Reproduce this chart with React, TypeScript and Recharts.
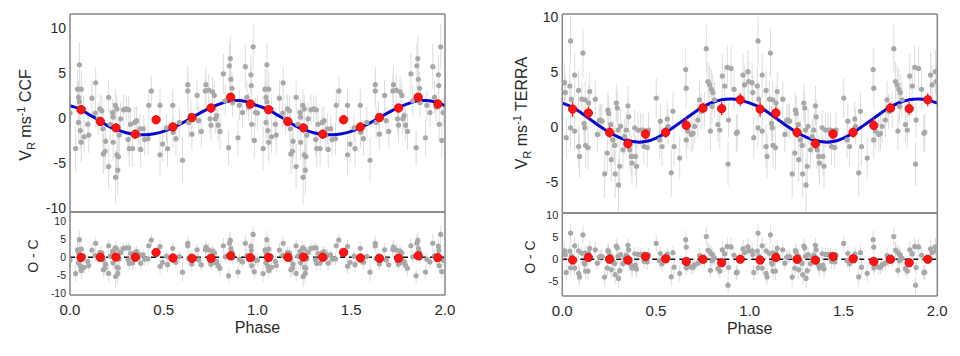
import {
  ComposedChart,
  Scatter,
  Line,
  XAxis,
  YAxis,
  ErrorBar,
  ReferenceLine,
} from "recharts";

const FONT = '"Liberation Sans", Arial, Helvetica, sans-serif';
const INK = "#2a2a2a";
const FRAME = "#858585";
const GREY_PT = "#a8a8a8";
const GREY_ERR = "#dcdcdc";
const RED = "#ff1414";
const BLUE = "#0808d4";

// phase-folded data is shown twice: 0-1 and again 1-2
const CYCLES = [0, 1];

const PHASE_LABELS = [0, 0.5, 1, 1.5, 2];
const PHASE_MINOR = [
  0, 0.1, 0.2, 0.3, 0.4, 0.5, 0.6, 0.7, 0.8, 0.9, 1, 1.1, 1.2, 1.3, 1.4, 1.5,
  1.6, 1.7, 1.8, 1.9, 2,
];

// fitted orbit, every 0.05 in phase
const MODEL_PHASE = [
  0, 0.05, 0.1, 0.15, 0.2, 0.25, 0.3, 0.35, 0.4, 0.45, 0.5, 0.55, 0.6, 0.65,
  0.7, 0.75, 0.8, 0.85, 0.9, 0.95, 1,
];
const CCF_MODEL = [
  1.36, 1.0, 0.4, -0.2, -0.85, -1.3, -1.65, -1.83, -1.87, -1.75, -1.5, -1.06,
  -0.55, 0.04, 0.62, 1.14, 1.57, 1.87, 1.94, 1.76, 1.36,
];
const TERRA_MODEL = [
  2.15, 1.8, 1.27, 0.66, 0.04, -0.5, -0.95, -1.26, -1.4, -1.33, -1.03, -0.57,
  0.03, 0.64, 1.24, 1.8, 2.2, 2.45, 2.52, 2.42, 2.15,
];

// [phase, rv, err, o-c]
const CCF_POINTS = [
  [0.0, 0.55, 2.0, -0.8], [0.03, -3.4, 2.5, -4.55], [0.04, 3.2, 2.2, 2.1],
  [0.05, 5.9, 2.5, 4.9], [0.06, 3.2, 2.0, 2.25], [0.045, 2.3, 1.8, 1.3],
  [0.05, 1.8, 2.0, 0.8], [0.045, -0.5, 2.2, -1.5], [0.055, -1.4, 2.0, -2.4],
  [0.06, -2.7, 2.3, -3.65], [0.075, -2.1, 1.8, -2.8], [0.073, 1.0, 1.5, 0.3],
  [0.095, -0.7, 1.8, -1.15], [0.1, -1.9, 2.0, -2.3], [0.117, 2.2, 2.0, 2.0],
  [0.137, 3.9, 1.8, 3.9], [0.135, 0.55, 1.6, 0.55], [0.15, -0.1, 1.8, 0.1],
  [0.16, 1.0, 1.6, 1.3], [0.17, 0.8, 1.7, 1.26], [0.175, -1.2, 2.0, -0.7],
  [0.178, -4.0, 2.2, -3.45], [0.187, -3.7, 2.0, -3.0], [0.19, -2.6, 2.0, -1.9],
  [0.206, 2.3, 1.8, 3.2], [0.206, -5.4, 2.5, -4.5], [0.215, -0.7, 1.8, 0.3],
  [0.228, 0.6, 1.5, 1.7], [0.23, 0.1, 1.6, 1.2], [0.23, -2.7, 2.0, -1.6],
  [0.242, 1.4, 1.8, 2.65], [0.25, 1.0, 1.5, 2.3], [0.25, -4.1, 2.5, -2.8],
  [0.258, -4.3, 2.5, -3.0], [0.255, -5.8, 2.8, -4.5], [0.243, -6.6, 3.0, -5.35],
  [0.263, -1.9, 2.0, -0.5], [0.27, -0.1, 1.8, 1.35], [0.285, 0.9, 1.7, 2.45],
  [0.3, 1.0, 1.5, 2.65], [0.313, 0.9, 1.6, 2.6], [0.31, -2.4, 1.8, -0.7],
  [0.316, -3.4, 2.0, -1.7], [0.323, -0.7, 1.8, 1.05], [0.334, -3.4, 2.0, -1.6],
  [0.345, -0.5, 1.7, 1.3], [0.355, -0.3, 1.6, 1.55], [0.363, -1.9, 1.8, -0.05],
  [0.373, -1.2, 1.7, 0.65], [0.377, -3.5, 2.0, -1.65], [0.39, -1.2, 1.5, 0.65],
  [0.398, -2.4, 1.8, -0.55], [0.416, -2.3, 1.8, -0.45], [0.434, 3.0, 1.6, 4.8],
  [0.42, 1.4, 1.7, 3.2], [0.48, 1.4, 1.8, 3.0], [0.48, -4.1, 2.2, -2.5],
  [0.494, -2.9, 2.0, -1.4], [0.515, -1.1, 1.6, 0.3], [0.52, -3.4, 2.0, -2.05],
  [0.548, 1.4, 1.8, 2.5], [0.55, -1.6, 1.7, -0.55], [0.565, -2.3, 1.9, -1.4],
  [0.583, -0.5, 1.7, 0.2], [0.6, -4.7, 2.5, -4.15], [0.628, 3.7, 2.0, 3.9],
  [0.628, 3.0, 1.8, 3.2], [0.633, -0.5, 1.8, -0.35], [0.645, 0.3, 1.6, 0.3],
  [0.65, -1.8, 1.8, -1.85], [0.678, 2.5, 1.8, 2.1], [0.686, -0.3, 1.6, -0.75],
  [0.7, -1.5, 1.8, -2.1], [0.722, 3.0, 1.8, 2.15], [0.725, 3.7, 2.0, 2.8],
  [0.74, 3.1, 1.8, 2.05], [0.747, -0.1, 1.6, -1.2], [0.752, -0.8, 1.8, -1.95],
  [0.76, 2.9, 1.7, 1.7], [0.77, 2.5, 1.6, 1.2], [0.775, -0.1, 1.7, -1.45],
  [0.782, 0.25, 1.5, -1.15], [0.79, -0.8, 1.8, -2.3], [0.8, -1.5, 2.0, -3.05],
  [0.818, 4.9, 2.2, 3.2], [0.828, 1.9, 1.7, 0.15], [0.846, -3.3, 2.0, -5.15],
  [0.85, 5.8, 2.5, 3.9], [0.855, 6.6, 2.5, 4.7], [0.858, 4.3, 2.0, 2.4],
  [0.864, 3.3, 1.8, 1.4], [0.867, 1.7, 1.6, -0.2], [0.896, -2.2, 2.0, -4.1],
  [0.903, 1.4, 1.7, -0.55], [0.92, 0.6, 1.6, -1.3], [0.935, 5.7, 2.5, 3.9],
  [0.944, 2.3, 1.8, 0.5], [0.953, 1.2, 1.6, -0.55], [0.965, 4.8, 2.2, 3.1],
  [0.967, 3.6, 2.0, 1.9], [0.969, -0.7, 1.8, -2.35], [0.977, 7.9, 2.5, 6.35],
  [0.983, -2.5, 2.0, -4.0], [0.99, 0.6, 1.6, -0.85],
];

const TERRA_POINTS = [
  [0.012, 4.0, 1.8, 1.9], [0.016, 3.1, 1.6, 1.05], [0.021, -1.0, 1.8, -3.0],
  [0.044, 7.8, 2.2, 5.95], [0.04, 3.7, 1.8, 1.85], [0.048, 2.5, 1.6, 0.7],
  [0.044, -0.1, 1.8, -1.95], [0.066, 4.7, 2.0, 3.05], [0.066, -0.4, 1.7, -2.0],
  [0.087, 3.3, 1.8, 1.9], [0.087, -1.8, 2.0, -3.2], [0.092, -2.7, 2.0, -4.05],
  [0.105, 2.5, 1.6, 1.3], [0.11, 6.7, 2.2, 5.55], [0.122, 2.45, 1.7, 1.45],
  [0.116, 0.3, 1.6, -0.8], [0.12, -0.1, 1.7, -1.1], [0.124, -1.7, 2.0, -2.7],
  [0.137, -1.9, 2.0, -2.7], [0.14, 2.15, 1.6, 1.35], [0.146, 3.2, 1.8, 2.5],
  [0.176, 2.5, 1.7, 2.15], [0.187, -0.7, 1.6, -0.9], [0.197, 0.55, 1.5, 0.5],
  [0.204, 0.6, 1.5, 0.6], [0.212, 0.5, 1.6, 0.6], [0.226, -4.3, 2.2, -4.05],
  [0.24, -2.4, 1.8, -2.0], [0.243, 1.5, 1.6, 1.95], [0.247, 1.2, 1.6, 1.65],
  [0.258, 0.2, 1.5, 0.75], [0.261, -3.0, 2.0, -2.4], [0.27, -1.2, 1.7, -0.5],
  [0.279, -1.7, 1.8, -0.95], [0.288, 2.15, 1.7, 3.0], [0.293, 1.7, 1.6, 2.6],
  [0.282, -4.3, 2.2, -3.5], [0.3, -5.3, 2.4, -4.35], [0.306, -3.6, 2.0, -2.6],
  [0.297, -0.3, 1.6, 0.65], [0.311, 0.03, 1.6, 1.05], [0.324, -2.1, 1.8, -1.0],
  [0.333, -0.9, 1.6, 0.25], [0.341, -0.3, 1.6, 0.9], [0.35, 1.9, 1.8, 3.15],
  [0.354, 0.9, 1.6, 2.15], [0.359, -2.1, 1.8, -0.8], [0.368, -2.7, 1.9, -1.4],
  [0.372, -3.3, 2.0, -2.0], [0.386, -0.1, 1.6, 1.25], [0.39, -2.7, 1.8, -1.35],
  [0.396, -3.6, 2.0, -2.2], [0.404, -0.3, 1.6, 1.1], [0.418, -0.3, 1.5, 1.1],
  [0.43, -0.3, 1.5, 1.07], [0.436, -1.8, 1.7, -0.45], [0.453, -1.9, 1.8, -0.6],
  [0.46, -0.3, 1.6, 1.0], [0.501, 2.6, 1.8, 3.6], [0.519, -1.2, 1.7, -0.35],
  [0.523, 0.5, 1.6, 1.3], [0.532, -1.8, 1.8, -1.05], [0.56, 0.7, 1.6, 1.15],
  [0.564, 0.03, 1.6, 0.45], [0.581, -4.2, 2.2, -4.0], [0.59, 1.4, 1.7, 1.5],
  [0.596, -1.8, 1.8, -1.8], [0.626, -2.85, 1.9, -3.2], [0.658, 5.2, 2.0, 4.45],
  [0.661, 3.5, 1.8, 2.75], [0.661, -1.2, 1.7, -1.95], [0.67, -0.4, 1.6, -1.3],
  [0.688, -0.7, 1.6, -1.8], [0.697, -0.6, 1.6, -1.8], [0.706, 0.03, 1.5, -1.3],
  [0.723, 0.6, 1.6, -0.9], [0.732, 2.45, 1.7, 0.85], [0.74, 1.4, 1.6, -0.3],
  [0.759, 1.55, 1.6, -0.3], [0.768, 7.1, 2.2, 5.15], [0.777, 4.1, 1.8, 2.1],
  [0.786, 3.8, 1.8, 1.7], [0.795, 3.4, 1.8, 1.25], [0.798, 1.85, 1.6, -0.35],
  [0.79, -0.4, 1.7, -2.5], [0.803, 3.1, 1.7, 0.9], [0.812, 2.45, 1.6, 0.2],
  [0.83, 0.2, 1.6, -2.15], [0.84, -0.3, 1.7, -2.7], [0.853, 4.6, 2.0, 2.15],
  [0.866, 3.7, 1.8, 1.2], [0.884, -3.4, 2.0, -5.9], [0.887, 0.6, 1.6, -1.9],
  [0.88, 5.4, 2.0, 2.9], [0.9, 5.3, 2.0, 2.8], [0.916, 3.4, 1.8, 0.9],
  [0.928, -0.6, 1.7, -3.05], [0.933, -0.5, 1.7, -2.95], [0.964, 4.7, 2.0, 2.35],
  [0.972, 3.8, 1.8, 1.5], [0.99, 5.0, 2.0, 2.8], [0.994, 4.1, 1.8, 1.9],
];

// binned means: [phase, rv, err, o-c]
const CCF_BINS = [
  [0.059, 0.92, 0.5, -0.05], [0.162, -0.4, 0.5, 0.0], [0.245, -1.1, 0.5, 0.05],
  [0.348, -1.8, 0.5, 0.0], [0.459, -0.2, 0.5, 1.35], [0.549, -1.0, 0.5, -0.2],
  [0.651, 0.04, 0.5, -0.3], [0.752, 1.1, 0.5, -0.25], [0.857, 2.3, 0.5, 0.4],
  [0.962, 1.55, 0.5, -0.1],
];
const TERRA_BINS = [
  [0.055, 1.6, 0.7, -0.2], [0.139, 1.24, 0.6, 0.4], [0.252, -0.52, 0.5, 0.0],
  [0.35, -1.55, 0.5, -0.2], [0.444, -0.67, 0.5, 0.6], [0.551, -0.52, 0.5, 0.1],
  [0.661, 0.12, 0.7, -0.5], [0.75, 1.7, 0.5, 0.0], [0.85, 1.64, 0.6, -0.8],
  [0.949, 2.45, 0.6, 0.0],
];

const CCF_TICKS = [-10, -5, 0, 5, 10];
const CCF_MINOR = [
  -10, -9, -8, -7, -6, -5, -4, -3, -2, -1, 0, 1, 2, 3, 4, 5, 6, 7, 8, 9, 10, 11,
];
const CCF_OC_TICKS = [-10, -5, 0, 5, 10];
const CCF_OC_MINOR = [-10, -7.5, -5, -2.5, 0, 2.5, 5, 7.5, 10, 12.5];
const TERRA_TICKS = [-5, 0, 5, 10];
const TERRA_MINOR = [
  -7, -6, -5, -4, -3, -2, -1, 0, 1, 2, 3, 4, 5, 6, 7, 8, 9, 10,
];
const TERRA_OC_TICKS = [-5, 0, 5, 10];
const TERRA_OC_MINOR = [
  -8, -7, -6, -5, -4, -3, -2, -1, 0, 1, 2, 3, 4, 5, 6, 7, 8, 9, 10,
];

type Row = { phase: number; v: number; err?: number };

function fold(rows: number[][], col: number): Row[] {
  return CYCLES.flatMap((c) =>
    rows.map((r) => ({ phase: r[0] + c, v: r[col], err: r[2] }))
  );
}

function foldModel(vals: number[]): Row[] {
  return CYCLES.flatMap((c) =>
    MODEL_PHASE.map((p, i) => ({ phase: p + c, v: vals[i] })).filter(
      (d, i) => c === 0 || i > 0
    )
  );
}

const greyDot = (p: any) => (
  <circle cx={p.cx} cy={p.cy} r={2.6} fill={GREY_PT} />
);
const redDot = (p: any) => (
  <circle cx={p.cx} cy={p.cy} r={4.2} fill={RED} stroke="#e00000" strokeWidth={0.8} />
);

type PanelProps = {
  left: number;
  top: number;
  width: number;
  height: number;
  margin: { top: number; right: number; bottom: number; left: number };
  domain: [number, number];
  ticks: number[];
  minor: number[];
  tickFont: number;
  points: Row[];
  bins: Row[];
  model?: Row[];
  residual?: boolean;
};

function Panel(props: PanelProps) {
  const { left, top, width, height, margin, domain, ticks, minor, tickFont } = props;
  const frame = { stroke: FRAME, strokeWidth: 1.5 };
  const tl = { stroke: FRAME, strokeWidth: 1 };
  return (
    <div style={{ position: "absolute", left, top, width, height }}>
      <ComposedChart width={width} height={height} margin={margin}>
        {props.residual ? (
          <XAxis
            xAxisId="x"
            dataKey="phase"
            type="number"
            domain={[0, 2]}
            allowDataOverflow
            ticks={PHASE_LABELS}
            interval={0}
            tickFormatter={(v: number) => v.toFixed(1)}
            tickLine={false}
            tickSize={6}
            tickMargin={3}
            height={45}
            axisLine={frame}
            tick={{ fill: INK, fontSize: 15, fontFamily: FONT }}
            label={{
              value: "Phase",
              position: "insideBottom",
              offset: 7,
              fill: INK,
              fontSize: 16,
              fontFamily: FONT,
            }}
          />
        ) : (
          <XAxis
            xAxisId="x"
            dataKey="phase"
            type="number"
            domain={[0, 2]}
            allowDataOverflow
            mirror
            ticks={PHASE_MINOR}
            interval={0}
            tick={false}
            tickSize={4}
            tickLine={tl}
            axisLine={frame}
          />
        )}
        <XAxis
          xAxisId="xb"
          type="number"
          domain={[0, 2]}
          allowDataOverflow
          mirror
          ticks={PHASE_MINOR}
          interval={0}
          tick={false}
          tickSize={4}
          tickLine={tl}
          axisLine={false}
        />
        <XAxis
          xAxisId="xt"
          orientation="top"
          type="number"
          domain={[0, 2]}
          allowDataOverflow
          mirror
          ticks={PHASE_MINOR}
          interval={0}
          tick={false}
          tickSize={4}
          tickLine={tl}
          axisLine={frame}
        />
        <YAxis
          yAxisId="y"
          dataKey="v"
          type="number"
          domain={domain}
          allowDataOverflow
          ticks={ticks}
          interval={0}
          width={40}
          tickLine={false}
          tickSize={0}
          tickMargin={4}
          axisLine={frame}
          tick={{ fill: INK, fontSize: tickFont, fontFamily: FONT }}
        />
        <YAxis
          yAxisId="yl1"
          type="number"
          domain={domain}
          allowDataOverflow
          mirror
          ticks={minor}
          interval={0}
          tick={false}
          tickSize={3}
          tickLine={tl}
          axisLine={false}
        />
        <YAxis
          yAxisId="yl2"
          type="number"
          domain={domain}
          allowDataOverflow
          mirror
          ticks={ticks}
          interval={0}
          tick={false}
          tickSize={6}
          tickLine={tl}
          axisLine={false}
        />
        <YAxis
          yAxisId="yr1"
          orientation="right"
          type="number"
          domain={domain}
          allowDataOverflow
          mirror
          ticks={minor}
          interval={0}
          tick={false}
          tickSize={3}
          tickLine={tl}
          axisLine={frame}
        />
        <YAxis
          yAxisId="yr2"
          orientation="right"
          type="number"
          domain={domain}
          allowDataOverflow
          mirror
          ticks={ticks}
          interval={0}
          tick={false}
          tickSize={6}
          tickLine={tl}
          axisLine={false}
        />
        <Scatter
          xAxisId="x"
          yAxisId="y"
          data={props.points}
          shape={greyDot}
          isAnimationActive={false}
        >
          <ErrorBar
            dataKey="err"
            direction="y"
            width={0}
            stroke={GREY_ERR}
            strokeWidth={1}
            isAnimationActive={false}
          />
        </Scatter>
        {props.residual && (
          <ReferenceLine
            xAxisId="x"
            yAxisId="y"
            y={0}
            stroke="#111"
            strokeWidth={1.3}
            strokeDasharray="5 4"
          />
        )}
        {props.model && (
          <Line
            xAxisId="x"
            yAxisId="y"
            data={props.model}
            dataKey="v"
            type="natural"
            stroke={BLUE}
            strokeWidth={3}
            dot={false}
            isAnimationActive={false}
          />
        )}
        <Scatter
          xAxisId="x"
          yAxisId="y"
          data={props.bins}
          shape={redDot}
          isAnimationActive={false}
        >
          <ErrorBar
            dataKey="err"
            direction="y"
            width={0}
            stroke={RED}
            strokeWidth={1.2}
            isAnimationActive={false}
          />
        </Scatter>
      </ComposedChart>
    </div>
  );
}

function RvTitle({ x, y, name }: { x: number; y: number; name: string }) {
  return (
    <text
      x={x}
      y={y}
      transform={`rotate(-90 ${x} ${y})`}
      textAnchor="middle"
      fontFamily={FONT}
      fontSize={16}
      fill={INK}
    >
      V
      <tspan fontSize={11} dy={4}>
        R
      </tspan>
      <tspan dy={-4}> ms</tspan>
      <tspan fontSize={11} dy={-6}>
        -1
      </tspan>
      <tspan dy={6}>{" " + name}</tspan>
    </text>
  );
}

function OcTitle({ x, y }: { x: number; y: number }) {
  return (
    <text
      x={x}
      y={y}
      transform={`rotate(-90 ${x} ${y})`}
      textAnchor="middle"
      fontFamily={FONT}
      fontSize={14}
      fill={INK}
    >
      O - C
    </text>
  );
}

export default function App() {
  return (
    <div
      style={{
        position: "absolute",
        left: 0,
        top: 0,
        width: 960,
        height: 356,
        background: "#fff",
        overflow: "hidden",
      }}
    >
      <Panel
        left={0}
        top={0}
        width={470}
        height={232}
        margin={{ top: 14, right: 25, bottom: 20, left: 30 }}
        domain={[-10.45, 11.55]}
        ticks={CCF_TICKS}
        minor={CCF_MINOR}
        tickFont={14}
        points={fold(CCF_POINTS, 1)}
        bins={fold(CCF_BINS, 1)}
        model={foldModel(CCF_MODEL)}
      />
      <Panel
        left={0}
        top={200}
        width={470}
        height={156}
        margin={{ top: 12, right: 25, bottom: 16, left: 30 }}
        domain={[-10.5, 12.6]}
        ticks={CCF_OC_TICKS}
        minor={CCF_OC_MINOR}
        tickFont={10.5}
        points={fold(CCF_POINTS, 3)}
        bins={fold(CCF_BINS, 3)}
        residual
      />
      <Panel
        left={480}
        top={0}
        width={480}
        height={233}
        margin={{ top: 14, right: 22.7, bottom: 20, left: 42.3 }}
        domain={[-7.85, 10.25]}
        ticks={TERRA_TICKS}
        minor={TERRA_MINOR}
        tickFont={14}
        points={fold(TERRA_POINTS, 1)}
        bins={fold(TERRA_BINS, 1)}
        model={foldModel(TERRA_MODEL)}
      />
      <Panel
        left={480}
        top={200}
        width={480}
        height={156}
        margin={{ top: 13, right: 22.7, bottom: 15, left: 42.3 }}
        domain={[-8.35, 10.5]}
        ticks={TERRA_OC_TICKS}
        minor={TERRA_OC_MINOR}
        tickFont={11}
        points={fold(TERRA_POINTS, 3)}
        bins={fold(TERRA_BINS, 3)}
        residual
      />
      <svg
        width={960}
        height={356}
        style={{ position: "absolute", left: 0, top: 0, pointerEvents: "none" }}
      >
        <RvTitle x={31} y={115} name="CCF" />
        <OcTitle x={38} y={256} />
        <RvTitle x={527} y={113} name="TERRA" />
        <OcTitle x={535} y={257} />
      </svg>
    </div>
  );
}
